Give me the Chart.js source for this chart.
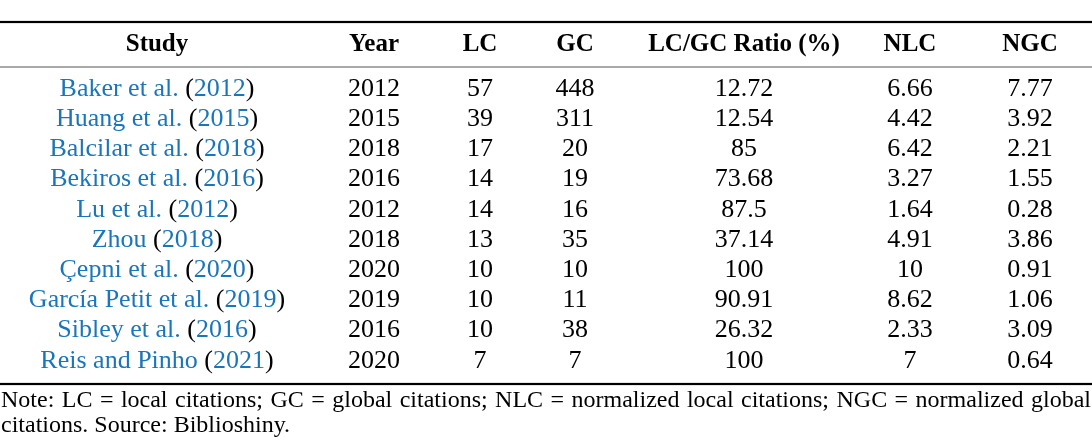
<!DOCTYPE html>
<html>
<head>
<meta charset="utf-8">
<script src="https://cdn.jsdelivr.net/npm/chart.js@4.4.1/dist/chart.umd.min.js"></script>
<style>
  html, body { margin: 0; padding: 0; background: #fff; }
  #wrap { width: 1092px; height: 440px; }
</style>
</head>
<body>
<div id="wrap"><canvas id="tableChart" width="1092" height="440"></canvas></div>
<script>
// Table data
const headers = ['Study', 'Year', 'LC', 'GC', 'LC/GC Ratio (%)', 'NLC', 'NGC'];
const authors = ['Baker et al.', 'Huang et al.', 'Balcilar et al.', 'Bekiros et al.', 'Lu et al.',
                 'Zhou', 'Çepni et al.', 'García Petit et al.', 'Sibley et al.', 'Reis and Pinho'];
const citeYears = ['2012', '2015', '2018', '2016', '2012', '2018', '2020', '2019', '2016', '2021'];
const years = [2012, 2015, 2018, 2016, 2012, 2018, 2020, 2019, 2016, 2020];
const lc = [57, 39, 17, 14, 14, 13, 10, 10, 10, 7];
const gc = [448, 311, 20, 19, 16, 35, 10, 11, 38, 7];
const ratio = ['12.72', '12.54', '85', '73.68', '87.5', '37.14', '100', '90.91', '26.32', '100'];
const nlc = ['6.66', '4.42', '6.42', '3.27', '1.64', '4.91', '10', '8.62', '2.33', '7'];
const ngc = ['7.77', '3.92', '2.21', '1.55', '0.28', '3.86', '0.91', '1.06', '3.09', '0.64'];
const noteLine1 = 'Note:  LC = local citations; GC = global citations; NLC = normalized local citations; NGC = normalized global';
const noteLine2 = 'citations. Source: Biblioshiny.';

// layout (column centres on a 0..1092 x scale, rows on an index scale)
const colX = [157, 374, 480, 575, 744, 910, 1030];
const headerRow = -1.46;
const rules = [{ y: -2.22, w: 2.2, c: '#000' }, { y: -0.73, w: 1, c: '#555' }, { y: 9.77, w: 2.2, c: '#000' }];
const noteRows = [10.33, 11.15];

const FONT = '"Liberation Serif", "Times New Roman", serif';
const BLUE = '#1b75bb';

const points = [];
years.forEach((_, r) => colX.forEach(x => points.push({ x: x, y: r })));

const tablePlugin = {
  id: 'tablePlugin',
  afterDatasetsDraw(chart) {
    const ctx = chart.ctx;
    const xs = chart.scales.x, ys = chart.scales.y;
    ctx.save();
    ctx.textBaseline = 'middle';

    // rules
    rules.forEach(rl => {
      const py = Math.round(ys.getPixelForValue(rl.y));
      ctx.fillStyle = rl.c;
      ctx.fillRect(0, py - rl.w / 2, chart.width, rl.w);
    });

    // header
    ctx.font = 'bold 25px ' + FONT;
    ctx.fillStyle = '#000';
    ctx.textAlign = 'center';
    headers.forEach((h, c) => ctx.fillText(h, xs.getPixelForValue(colX[c]), ys.getPixelForValue(headerRow)));

    // body
    ctx.font = '26px ' + FONT;
    authors.forEach((a, r) => {
      const py = ys.getPixelForValue(r);
      // study cell: blue name + (blue year)
      const parts = [[a + ' ', BLUE], ['(', '#000'], [citeYears[r], BLUE], [')', '#000']];
      const total = parts.reduce((s, p) => s + ctx.measureText(p[0]).width, 0);
      let px = xs.getPixelForValue(colX[0]) - total / 2;
      ctx.textAlign = 'left';
      parts.forEach(p => {
        ctx.fillStyle = p[1];
        ctx.fillText(p[0], px, py);
        px += ctx.measureText(p[0]).width;
      });
      ctx.textAlign = 'center';
      ctx.fillStyle = '#000';
      const cells = [years[r], lc[r], gc[r], ratio[r], nlc[r], ngc[r]];
      cells.forEach((v, c) => ctx.fillText(String(v), xs.getPixelForValue(colX[c + 1]), py));
    });

    // note, first line justified to full width
    ctx.font = '24px ' + FONT;
    ctx.textAlign = 'left';
    const words = noteLine1.split(/\s+/);
    const wordsW = words.reduce((s, w) => s + ctx.measureText(w).width, 0);
    const left = xs.getPixelForValue(1), right = xs.getPixelForValue(1091);
    const gap = (right - left - wordsW) / (words.length - 1);
    let nx = left;
    const ny = ys.getPixelForValue(noteRows[0]);
    words.forEach(w => { ctx.fillText(w, nx, ny); nx += ctx.measureText(w).width + gap; });
    ctx.fillText(noteLine2, left, ys.getPixelForValue(noteRows[1]));
    ctx.restore();
  }
};

new Chart(document.getElementById('tableChart'), {
  type: 'scatter',
  data: { datasets: [{ data: points, pointRadius: 0, pointHoverRadius: 0 }] },
  options: {
    responsive: false,
    animation: false,
    layout: { padding: 0 },
    plugins: { legend: { display: false }, tooltip: { enabled: false } },
    scales: {
      x: { display: false, min: 0, max: 1092 },
      y: { display: false, reverse: true, min: -2.947, max: 11.623 }
    }
  },
  plugins: [tablePlugin]
});
</script>
</body>
</html>
